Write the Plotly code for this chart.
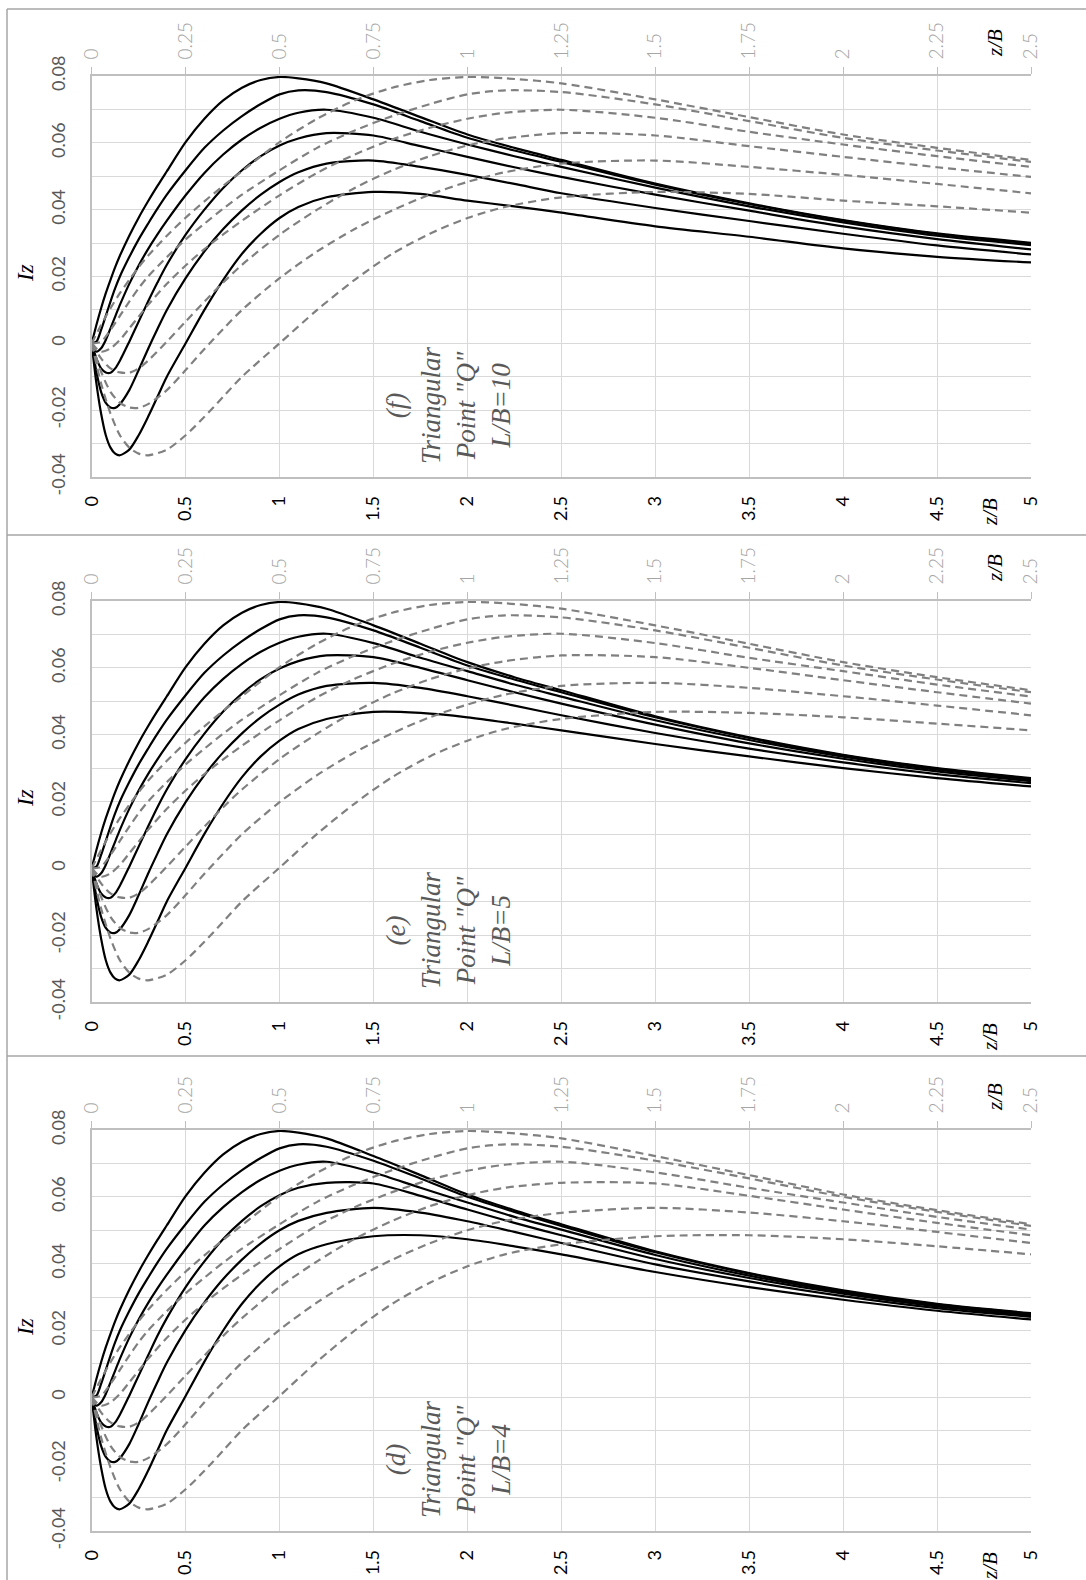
import plotly.graph_objects as go

W, H = 1086, 1580

# z/B sample positions (primary axis 0..5; the dashed copies use the 0..2.5 secondary axis)
z = [0, 0.025, 0.05, 0.075, 0.1, 0.125, 0.15, 0.2, 0.25, 0.3, 0.35, 0.4, 0.5, 0.6, 0.7, 0.8, 0.9,
     1.0, 1.1, 1.25, 1.5, 1.75, 2.0, 2.25, 2.5, 3.0, 3.5, 4.0, 4.5, 5.0]

# Panel (f) L/B=10
f1 = [0, 0.0055, 0.0105, 0.0150, 0.0190, 0.0228, 0.0262, 0.0322, 0.0376, 0.0425, 0.0471, 0.0515, 0.0602, 0.0672, 0.0727, 0.0765, 0.0788,
      0.0797, 0.0793, 0.0778, 0.0730, 0.0677, 0.0625, 0.0585, 0.0549, 0.0478, 0.0419, 0.0369, 0.0329, 0.0301]
f2 = [0, 0.0005, 0.0040, 0.0082, 0.0125, 0.0165, 0.0200, 0.0258, 0.0311, 0.0358, 0.0403, 0.0445, 0.0518, 0.0585, 0.0637, 0.0680, 0.0716,
      0.0745, 0.0757, 0.0752, 0.0715, 0.0665, 0.0615, 0.0577, 0.0543, 0.0475, 0.0417, 0.0367, 0.0327, 0.0299]
f3 = [0, -0.0025, -0.0015, 0.0010, 0.0045, 0.0080, 0.0115, 0.0178, 0.0233, 0.0282, 0.0326, 0.0367, 0.0443, 0.0510, 0.0565, 0.0610, 0.0645,
      0.0672, 0.0690, 0.0699, 0.0675, 0.0633, 0.0595, 0.0560, 0.0528, 0.0466, 0.0410, 0.0362, 0.0322, 0.0294]
f4 = [0, -0.0045, -0.0075, -0.0087, -0.0088, -0.0075, -0.0052, 0.0005, 0.0065, 0.0125, 0.0182, 0.0235, 0.0325, 0.0400, 0.0465, 0.0518, 0.0560,
      0.0592, 0.0613, 0.0629, 0.0622, 0.0590, 0.0558, 0.0527, 0.0498, 0.0445, 0.0397, 0.0350, 0.0312, 0.0281]
f5 = [0, -0.0085, -0.0145, -0.0178, -0.0192, -0.0193, -0.0182, -0.0140, -0.0080, -0.0017, 0.0043, 0.0100, 0.0195, 0.0275, 0.0342, 0.0398, 0.0445,
      0.0483, 0.0512, 0.0538, 0.0547, 0.0528, 0.0504, 0.0477, 0.0449, 0.0405, 0.0366, 0.0328, 0.0293, 0.0266]
f6 = [0, -0.0120, -0.0210, -0.0275, -0.0312, -0.0330, -0.0335, -0.0318, -0.0275, -0.0220, -0.0160, -0.0100, 0.0000, 0.0100, 0.0190, 0.0268, 0.0328,
      0.0375, 0.0408, 0.0437, 0.0453, 0.0447, 0.0427, 0.0410, 0.0391, 0.0350, 0.0319, 0.0284, 0.0259, 0.0242]

# Panel (e) L/B=5
e1 = [0, 0.0055, 0.0105, 0.0150, 0.0190, 0.0228, 0.0262, 0.0322, 0.0376, 0.0425, 0.0471, 0.0515, 0.0602, 0.0672, 0.0727, 0.0765, 0.0788,
      0.0797, 0.0793, 0.0777, 0.0727, 0.0672, 0.0617, 0.0572, 0.0533, 0.0455, 0.0392, 0.0340, 0.0300, 0.0270]
e2 = [0, 0.0005, 0.0040, 0.0082, 0.0125, 0.0165, 0.0200, 0.0258, 0.0311, 0.0358, 0.0403, 0.0445, 0.0518, 0.0585, 0.0637, 0.0680, 0.0716,
      0.0745, 0.0757, 0.0751, 0.0712, 0.0660, 0.0607, 0.0565, 0.0527, 0.0452, 0.0390, 0.0338, 0.0298, 0.0268]
e3 = [0, -0.0025, -0.0015, 0.0010, 0.0045, 0.0080, 0.0115, 0.0178, 0.0233, 0.0282, 0.0326, 0.0367, 0.0443, 0.0512, 0.0567, 0.0612, 0.0648,
      0.0675, 0.0693, 0.0702, 0.0674, 0.0630, 0.0590, 0.0550, 0.0514, 0.0443, 0.0384, 0.0334, 0.0295, 0.0265]
e4 = [0, -0.0045, -0.0075, -0.0087, -0.0088, -0.0075, -0.0052, 0.0005, 0.0065, 0.0125, 0.0183, 0.0236, 0.0327, 0.0403, 0.0469, 0.0523, 0.0566,
      0.0598, 0.0620, 0.0637, 0.0632, 0.0600, 0.0563, 0.0527, 0.0493, 0.0430, 0.0374, 0.0328, 0.0290, 0.0261]
e5 = [0, -0.0085, -0.0145, -0.0178, -0.0192, -0.0193, -0.0182, -0.0140, -0.0080, -0.0016, 0.0044, 0.0102, 0.0198, 0.0279, 0.0347, 0.0404, 0.0452,
      0.0490, 0.0520, 0.0546, 0.0555, 0.0540, 0.0515, 0.0487, 0.0458, 0.0405, 0.0358, 0.0317, 0.0282, 0.0255]
e6 = [0, -0.0120, -0.0210, -0.0275, -0.0312, -0.0330, -0.0335, -0.0318, -0.0275, -0.0220, -0.0160, -0.0099, 0.0002, 0.0103, 0.0194, 0.0273, 0.0335,
      0.0382, 0.0417, 0.0447, 0.0468, 0.0465, 0.0452, 0.0433, 0.0413, 0.0372, 0.0335, 0.0300, 0.0270, 0.0245]

# Panel (d) L/B=4
d1 = [0, 0.0055, 0.0105, 0.0150, 0.0190, 0.0228, 0.0262, 0.0322, 0.0376, 0.0425, 0.0471, 0.0515, 0.0602, 0.0672, 0.0727, 0.0765, 0.0788,
      0.0797, 0.0792, 0.0775, 0.0722, 0.0665, 0.0607, 0.0560, 0.0518, 0.0437, 0.0372, 0.0320, 0.0280, 0.0252]
d2 = [0, 0.0005, 0.0040, 0.0082, 0.0125, 0.0165, 0.0200, 0.0258, 0.0311, 0.0358, 0.0403, 0.0445, 0.0518, 0.0585, 0.0637, 0.0680, 0.0716,
      0.0745, 0.0757, 0.0750, 0.0708, 0.0655, 0.0600, 0.0555, 0.0513, 0.0434, 0.0370, 0.0318, 0.0278, 0.0250]
d3 = [0, -0.0025, -0.0015, 0.0010, 0.0045, 0.0080, 0.0115, 0.0178, 0.0233, 0.0282, 0.0326, 0.0367, 0.0444, 0.0514, 0.0569, 0.0614, 0.0651,
      0.0678, 0.0696, 0.0705, 0.0673, 0.0627, 0.0583, 0.0540, 0.0502, 0.0426, 0.0364, 0.0314, 0.0276, 0.0248]
d4 = [0, -0.0045, -0.0075, -0.0087, -0.0088, -0.0075, -0.0052, 0.0005, 0.0065, 0.0125, 0.0184, 0.0237, 0.0330, 0.0407, 0.0474, 0.0528, 0.0572,
      0.0605, 0.0627, 0.0642, 0.0640, 0.0603, 0.0562, 0.0522, 0.0485, 0.0414, 0.0357, 0.0310, 0.0272, 0.0245]
d5 = [0, -0.0085, -0.0145, -0.0178, -0.0192, -0.0193, -0.0182, -0.0140, -0.0080, -0.0015, 0.0046, 0.0104, 0.0202, 0.0284, 0.0354, 0.0412, 0.0461,
      0.0500, 0.0528, 0.0552, 0.0567, 0.0553, 0.0527, 0.0495, 0.0462, 0.0398, 0.0347, 0.0303, 0.0267, 0.0241]
d6 = [0, -0.0120, -0.0210, -0.0275, -0.0312, -0.0330, -0.0335, -0.0318, -0.0275, -0.0220, -0.0159, -0.0098, 0.0004, 0.0107, 0.0200, 0.0280, 0.0343,
      0.0392, 0.0428, 0.0458, 0.0482, 0.0485, 0.0473, 0.0452, 0.0428, 0.0375, 0.0330, 0.0292, 0.0259, 0.0233]

panels = [
    dict(tag="(f)", lb="L/B=10", series=[f1, f2, f3, f4, f5, f6], top=76, bottom=477, box=(9, 535)),
    dict(tag="(e)", lb="L/B=5", series=[e1, e2, e3, e4, e5, e6], top=601, bottom=1002, box=(535, 1056)),
    dict(tag="(d)", lb="L/B=4", series=[d1, d2, d3, d4, d5, d6], top=1130, bottom=1531, box=(1056, 1590)),
]

primary_ticks = [0, 0.5, 1, 1.5, 2, 2.5, 3, 3.5, 4, 4.5, 5]
secondary_ticks = [0, 0.25, 0.5, 0.75, 1, 1.25, 1.5, 1.75, 2, 2.25, 2.5]
iz_ticks = [-0.04, -0.02, 0, 0.02, 0.04, 0.06, 0.08]
iz_text = ["-0.04", "-0.02", "0", "0.02", "0.04", "0.06", "0.08"]

X0, X1 = 91.7, 1031.0
fig = go.Figure()
layout = dict(width=W, height=H, margin=dict(l=0, r=0, t=0, b=0, pad=0), autosize=False,
              paper_bgcolor="white", plot_bgcolor="white", showlegend=False)
annotations = []
shapes = []

AX = "#bfbfbf"
GR = "#d9d9d9"
SERIF = "Liberation Serif, Times New Roman, serif"
SANS = "Lato, Open Sans, sans-serif"

for i, p in enumerate(panels):
    k = i + 1
    xs = "x" if k == 1 else f"x{k}"
    ys = "y" if k == 1 else f"y{k}"
    x2n = k + 3
    x2s = f"x{x2n}"
    ydom = [1 - p["bottom"] / H, 1 - p["top"] / H]
    xdom = [X0 / W, X1 / W]
    layout[f"xaxis{'' if k == 1 else k}"] = dict(
        domain=xdom, anchor=ys, range=[0, 5], tickvals=primary_ticks, automargin=False,
        ticktext=[f"{v:g}" for v in primary_ticks], tickangle=-90,
        showgrid=True, gridcolor=GR, gridwidth=1.3, showline=True, linecolor=AX, linewidth=1.5,
        zeroline=False, ticks="", ticklabelstandoff=10,
        tickfont=dict(family=SANS, size=18, color="#000000"))
    layout[f"yaxis{'' if k == 1 else k}"] = dict(
        domain=ydom, anchor=xs, range=[-0.04, 0.08], tickvals=iz_ticks, ticktext=iz_text, automargin=False,
        tickangle=-90, showgrid=True, gridcolor=GR, gridwidth=1.3,
        minor=dict(dtick=0.01, tick0=0, showgrid=True, gridcolor=GR, gridwidth=1.3),
        showline=True, linecolor=AX, linewidth=1.5, zeroline=False, ticks="",
        ticklabelstandoff=18,
        tickfont=dict(family=SANS, size=18, color="#595959"))
    layout[f"xaxis{x2n}"] = dict(
        overlaying=xs, anchor=ys, side="top", range=[0, 2.5], tickvals=secondary_ticks, automargin=False,
        ticktext=[f"{v:g}" for v in secondary_ticks], tickangle=-90,
        showgrid=False, showline=True, linecolor=AX, linewidth=1.5, zeroline=False,
        ticks="outside", ticklen=7, tickcolor=AX, tickwidth=1.3, ticklabelstandoff=4,
        tickfont=dict(family=SANS, size=19, color="#a6a6a6", weight=300))

    for s in p["series"]:
        fig.add_trace(go.Scatter(x=z, y=s, xaxis=xs, yaxis=ys, mode="lines",
                                 line=dict(color="#000000", width=2.2, shape="spline", smoothing=0.8),
                                 hoverinfo="skip"))
        zz = [a for a in z if a <= 2.5]
        fig.add_trace(go.Scatter(x=zz, y=s[:len(zz)], xaxis=x2s, yaxis=ys, mode="lines",
                                 line=dict(color="#808080", width=2.2, dash="8px,5px", shape="spline", smoothing=0.8),
                                 hoverinfo="skip"))

    top, bot = p["top"], p["bottom"]

    def ann(text, px, py, size, color="#000000", align="center"):
        annotations.append(dict(text=text, x=px / W, y=1 - py / H, xref="paper", yref="paper",
                                xanchor="center", yanchor="middle", showarrow=False, textangle=-90,
                                align=align, font=dict(family=SERIF, size=size, color=color)))

    ann("<i>z/B</i>", 990, bot + 35, 21)
    ann("<i>z/B</i>", 995, top - 33, 21)
    ann("<i>Iz</i>", 25, top + 197, 23)
    ann(f"<i>{p['tag']}<br>Triangular<br>Point \"Q\"<br>{p['lb']}</i>", 448, top + 329, 27, color="#595959")

    y0, y1 = p["box"]
    shapes.append(dict(type="line", xref="paper", yref="paper", x0=7 / W, x1=1.0,
                       y0=1 - y0 / H, y1=1 - y0 / H, line=dict(color="#a6a6a6", width=1.5)))
    shapes.append(dict(type="line", xref="paper", yref="paper", x0=7 / W, x1=7 / W,
                       y0=1 - y0 / H, y1=1 - min(y1, H) / H, line=dict(color="#a6a6a6", width=1.5)))

layout["annotations"] = annotations
layout["shapes"] = shapes
fig.update_layout(**layout)
fig.write_html("out.html")
